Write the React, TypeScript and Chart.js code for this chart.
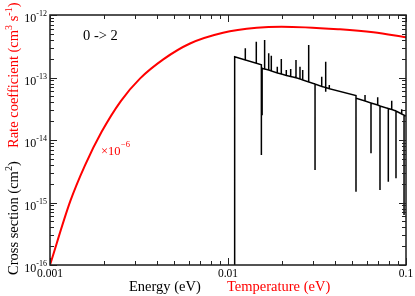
import { useEffect, useRef } from 'react';
import { Chart, registerables } from 'chart.js';

Chart.register(...registerables);

// Rate coefficient (red) vs temperature (eV)
const rateTemperature = [0.001, 0.0013, 0.00157, 0.00195, 0.0025, 0.0032, 0.00433, 0.00612, 0.00938, 0.0145, 0.02, 0.0426, 0.0655, 0.1];
const rateCoefficient = [1e-16, 1.05e-15, 3.9e-15, 1.35e-14, 4.2e-14, 9.6e-14, 1.95e-13, 3.5e-13, 5.2e-13, 6.25e-13, 6.5e-13, 5.9e-13, 5.3e-13, 4.4e-13];

// Cross section (black) vs energy (eV), with resonance spikes
const crossEnergy = [
  0.0109, 0.0109,
  0.01251, 0.01251, 0.01251,
  0.01442, 0.01442, 0.01442,
  0.0154, 0.0154, 0.0154,
  0.01555, 0.01555, 0.01555,
  0.01606, 0.01606, 0.01606,
  0.01693, 0.01693, 0.01693,
  0.01751, 0.01751, 0.01751,
  0.01892, 0.01892, 0.01892,
  0.01993, 0.01993, 0.01993,
  0.02126, 0.02126, 0.02126,
  0.0225, 0.0225, 0.0225,
  0.0241, 0.0241, 0.0241,
  0.02538, 0.02538, 0.02538,
  0.02628, 0.02628, 0.02628,
  0.0284, 0.0284, 0.0284,
  0.03083, 0.03083, 0.03083,
  0.03361, 0.03361, 0.03361,
  0.03539, 0.03539, 0.03539, 0.03539, 0.03539,
  0.03708, 0.03708, 0.03708,
  0.05237, 0.05237, 0.05237,
  0.05886, 0.05886, 0.05886,
  0.06359, 0.06359, 0.06359,
  0.06934, 0.06934, 0.06934,
  0.07143, 0.07143, 0.07143,
  0.07955, 0.07955, 0.07955,
  0.08313, 0.08313, 0.08313,
  0.08786, 0.08786, 0.08786,
  0.09458, 0.09458, 0.09458,
  0.0975, 0.0975, 0.0975,
  0.1,
];
const crossSection = [
  1e-16, 2.15e-13,
  1.91e-13, 2.93e-13, 1.91e-13,
  1.69e-13, 3.74e-13, 1.69e-13,
  1.6e-13, 5.75e-15, 1.42e-13,
  1.41e-13, 2.5e-14, 1.4e-13,
  1.37e-13, 3.98e-13, 1.37e-13,
  1.32e-13, 2.44e-13, 1.32e-13,
  1.27e-13, 2.23e-13, 1.27e-13,
  1.18e-13, 1.49e-13, 1.18e-13,
  1.14e-13, 1.98e-13, 1.14e-13,
  1.08e-13, 1.32e-13, 1.08e-13,
  1.04e-13, 1.37e-13, 1.04e-13,
  9.9e-14, 1.91e-13, 9.9e-14,
  9.46e-14, 1.49e-13, 9.46e-14,
  9.12e-14, 1.32e-13, 9.12e-14,
  8.47e-14, 3.31e-13, 8.47e-14,
  7.87e-14, 3.31e-15, 7.87e-14,
  7.18e-14, 1.03e-13, 7.18e-14,
  6.92e-14, 1.79e-13, 6.92e-14, 5.9e-14, 6.92e-14,
  6.6e-14, 7.6e-14, 6.6e-14,
  5.15e-14, 1.49e-15, 4.65e-14,
  4.21e-14, 5.25e-14, 4.21e-14,
  3.91e-14, 6.12e-15, 3.91e-14,
  3.63e-14, 4.82e-14, 3.63e-14,
  3.5e-14, 1.58e-15, 3.5e-14,
  3.19e-14, 2.15e-15, 3.19e-14,
  3.08e-14, 4.25e-14, 3.08e-14,
  2.91e-14, 2.44e-15, 2.91e-14,
  2.61e-14, 3.1e-14, 2.61e-14,
  2.5e-14, 6.3e-16, 2.5e-14,
  2.42e-14,
];

// Axes
const xMajorTicks = [0.001, 0.01, 0.1];
const xTickLabels = ['0.001', '0.01', '0.1'];
const xMinorTicks = [0.002, 0.003, 0.004, 0.005, 0.006, 0.007, 0.008, 0.009, 0.02, 0.03, 0.04, 0.05, 0.06, 0.07, 0.08, 0.09];
const yMajorTicks = [1e-16, 1e-15, 1e-14, 1e-13, 1e-12];
const yTickExponents = ['-16', '-15', '-14', '-13', '-12'];
const yMinorMantissas = [2, 3, 4, 5, 6, 7, 8, 9];
const yMinorDecades = [1e-16, 1e-15, 1e-14, 1e-13];

const SERIF = '"Liberation Serif", "Times New Roman", serif';

const framePlugin = {
  id: 'framePlugin',
  afterDatasetsDraw(chart: any) {
    const { ctx, chartArea: a, scales } = chart;
    const x = scales.x;
    const y = scales.y;
    ctx.save();
    ctx.strokeStyle = '#1a1a1a';
    ctx.lineWidth = 1.5;
    ctx.strokeRect(a.left, a.top, a.right - a.left, a.bottom - a.top);

    ctx.lineWidth = 1;
    ctx.strokeStyle = '#222';
    const vTick = (v: number, len: number) => {
      const px = Math.round(x.getPixelForValue(v)) + 0.5;
      ctx.beginPath();
      ctx.moveTo(px, a.bottom);
      ctx.lineTo(px, a.bottom - len);
      ctx.moveTo(px, a.top);
      ctx.lineTo(px, a.top + len);
      ctx.stroke();
    };
    const hTick = (v: number, len: number) => {
      const py = Math.round(y.getPixelForValue(v)) + 0.5;
      ctx.beginPath();
      ctx.moveTo(a.left, py);
      ctx.lineTo(a.left + len, py);
      ctx.moveTo(a.right, py);
      ctx.lineTo(a.right - len, py);
      ctx.stroke();
    };
    xMajorTicks.forEach((v) => vTick(v, 7));
    xMinorTicks.forEach((v) => vTick(v, 4));
    yMajorTicks.forEach((v) => hTick(v, 7));
    yMinorDecades.forEach((d) => yMinorMantissas.forEach((m) => hTick(d * m, 4)));

    // x tick labels
    ctx.fillStyle = '#000';
    ctx.font = `11.5px ${SERIF}`;
    ctx.textAlign = 'center';
    ctx.textBaseline = 'alphabetic';
    xMajorTicks.forEach((v, i) => {
      ctx.fillText(xTickLabels[i], x.getPixelForValue(v), a.bottom + 12);
    });

    // y tick labels: 10^exp
    yMajorTicks.forEach((v, i) => {
      const py = y.getPixelForValue(v);
      ctx.font = `8px ${SERIF}`;
      const supW = ctx.measureText(yTickExponents[i]).width;
      ctx.textAlign = 'left';
      const supX = a.left - 3 - supW;
      ctx.fillText(yTickExponents[i], supX, py + 1);
      ctx.font = `12px ${SERIF}`;
      ctx.textAlign = 'right';
      ctx.fillText('10', supX, py + 7);
    });

    // x axis titles
    ctx.textAlign = 'left';
    ctx.font = `14.5px ${SERIF}`;
    ctx.fillStyle = '#000';
    ctx.fillText('Energy (eV)', 129, 291);
    ctx.fillStyle = '#ff0000';
    ctx.fillText('Temperature (eV)', 227, 291);

    // rotated y titles
    const rotated = (parts: { t: string; sup?: boolean }[], color: string, startY: number) => {
      ctx.save();
      ctx.translate(18, startY);
      ctx.rotate(-Math.PI / 2);
      ctx.fillStyle = color;
      let cx = 0;
      parts.forEach((p) => {
        ctx.font = p.sup ? `10px ${SERIF}` : `14.5px ${SERIF}`;
        ctx.fillText(p.t, cx, p.sup ? -6 : 0);
        cx += ctx.measureText(p.t).width;
      });
      ctx.restore();
    };
    rotated([{ t: 'Cross section (cm' }, { t: '2', sup: true }, { t: ')' }], '#000', 275);
    rotated(
      [{ t: 'Rate coefficient (cm' }, { t: '3', sup: true }, { t: ' s' }, { t: '-1', sup: true }, { t: ')' }],
      '#ff0000',
      148
    );

    // annotations
    ctx.fillStyle = '#000';
    ctx.font = `14.5px ${SERIF}`;
    ctx.fillText('0 -> 2', 83, 40);
    ctx.fillStyle = '#ff0000';
    ctx.font = `12.5px ${SERIF}`;
    ctx.fillText('\u00d710', 101, 155);
    const w = ctx.measureText('\u00d710').width;
    ctx.font = `8.5px ${SERIF}`;
    ctx.fillText('\u22126', 101 + w + 0.5, 147);
    ctx.restore();
  },
};

export default function App() {
  const ref = useRef<HTMLCanvasElement | null>(null);
  useEffect(() => {
    if (!ref.current) return;
    const chart = new Chart(ref.current, {
      type: 'scatter',
      data: {
        datasets: [
          {
            data: crossEnergy.map((e, i) => ({ x: e, y: crossSection[i] })),
            showLine: true,
            borderColor: '#000',
            borderWidth: 1.5,
            pointRadius: 0,
            tension: 0,
          },
          {
            data: rateTemperature.map((t, i) => ({ x: t, y: rateCoefficient[i] })),
            showLine: true,
            borderColor: '#ff0000',
            borderWidth: 2,
            pointRadius: 0,
            cubicInterpolationMode: 'monotone',
          },
        ],
      },
      options: {
        animation: false,
        responsive: false,
        devicePixelRatio: 1,
        layout: { padding: { left: 50, right: 9, top: 15, bottom: 31 } },
        plugins: { legend: { display: false }, tooltip: { enabled: false } },
        scales: {
          x: { type: 'logarithmic', min: 0.001, max: 0.1, display: false },
          y: { type: 'logarithmic', min: 1e-16, max: 1e-12, display: false },
        },
      },
      plugins: [framePlugin],
    } as any);
    return () => chart.destroy();
  }, []);
  return (
    <div style={{ position: 'fixed', left: 0, top: 0, width: 415, height: 296, background: '#fff' }}>
      <canvas ref={ref} width={415} height={296} />
    </div>
  );
}
